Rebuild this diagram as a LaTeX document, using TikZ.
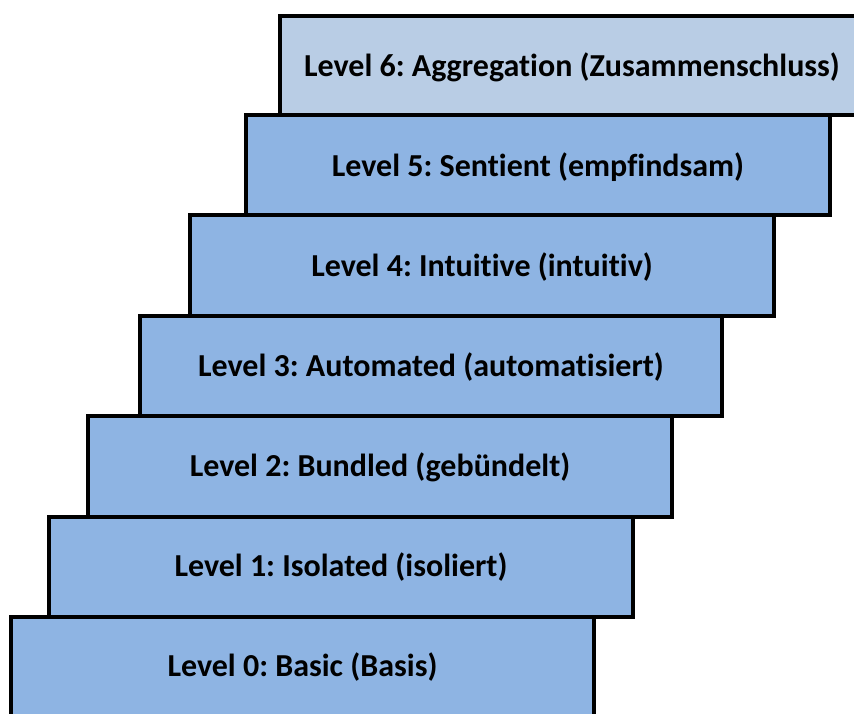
\documentclass[tikz,border=0pt]{standalone}
\usepackage{fontspec}
\setmainfont[Ligatures=NoCommon]{Carlito}
\definecolor{stepblue}{HTML}{8EB4E3}
\definecolor{toplight}{HTML}{B9CDE5}
\begin{document}
\frenchspacing
\begin{tikzpicture}[x=1pt,y=-1pt,
  stair/.style={draw=black, line width=3.6pt, fill=stepblue, line join=miter},
  label/.style={font=\fontsize{32}{38}\selectfont\bfseries, text=black}]
\useasboundingbox (0,0) rectangle (854,713);
\clip (0,0) rectangle (854,713);
% stair steps, lowest first
\draw[stair] (11,617) rectangle (594,730);
\node[label] (l0) at (302.5,667) {Level 0: Basic (Basis)};
\draw[stair] (49,517) rectangle (633,617);
\node[label] (l1) at (341,567) {Level 1: Isolated (isoliert)};
\draw[stair] (88,416) rectangle (672,517);
\node[label] (l2) at (380,467) {Level 2: Bundled (gebündelt)};
\draw[stair] (140,316) rectangle (722,416);
\node[label] (l3) at (431,367) {Level 3: Automated (automatisiert)};
\draw[stair] (190,215) rectangle (774,316);
\node[label] (l4) at (482,267) {Level 4: Intuitive (intuitiv)};
\draw[stair] (246,115) rectangle (830,215);
\node[label] (l5) at (538,167) {Level 5: Sentient (empfindsam)};
\draw[stair, fill=toplight] (280,16) rectangle (864,115);
\node[label] (l6) at (572,67) {Level 6: Aggregation (Zusammenschluss)};
\end{tikzpicture}
\end{document}
